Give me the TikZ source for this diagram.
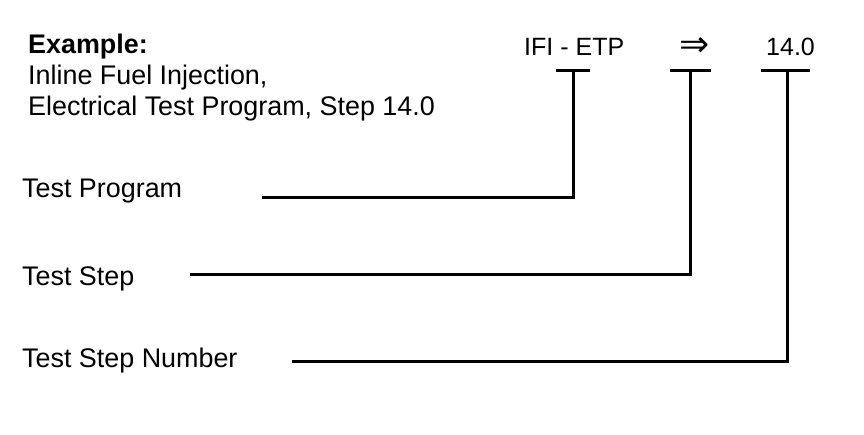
\documentclass[tikz,border=0pt]{standalone}
\usepackage{fontspec}
\setmainfont{Liberation Sans}
\newfontfamily\symfont{DejaVu Sans}
\begin{document}
\begin{tikzpicture}[x=1pt,y=-1pt,
  lbl/.style={inner sep=0pt, anchor=base west, font=\fontsize{26.9}{31}\selectfont},
  code/.style={inner sep=0pt, anchor=base west, font=\fontsize{25}{29}\selectfont},
  conn/.style={line width=3pt, line cap=butt, line join=miter}]
\useasboundingbox (0,0) rectangle (864,434);
% heading text
\node[lbl] (ex) at (28,53) {\bfseries Example:};
\node[lbl] (l1) at (28,84) {Inline Fuel Injection,};
\node[lbl] (l2) at (28,115) {Electrical Test Program, Step 14.0};
% code
\node[code] (ifi) at (524,55) {IFI - ETP};
\node[inner sep=0pt, anchor=base, font=\symfont\fontsize{36}{40}\selectfont] (arr) at (695,56) {⇒};
\node[code] (num) at (766,55) {14.0};
% labels
\node[lbl] (tp) at (22,197) {Test Program};
\node[lbl] (ts) at (22,285) {Test Step};
\node[lbl] (tsn) at (22,367) {Test Step Number};
% T bars
\coordinate (a1) at (556,70); \coordinate (a2) at (590,70); \coordinate (am) at (573,70);
\coordinate (b1) at (670,70); \coordinate (b2) at (711,70); \coordinate (bm) at (690,70);
\coordinate (c1) at (761,70); \coordinate (c2) at (810,70); \coordinate (cm) at (787,70);
\coordinate (ae) at (262,197);
\coordinate (be) at (190,274);
\coordinate (ce) at (292,361);
\draw[conn] (a1) -- (a2);
\draw[conn] (b1) -- (b2);
\draw[conn] (c1) -- (c2);
\draw[conn] (am) |- (ae);
\draw[conn] (bm) |- (be);
\draw[conn] (cm) |- (ce);
\end{tikzpicture}
\end{document}
